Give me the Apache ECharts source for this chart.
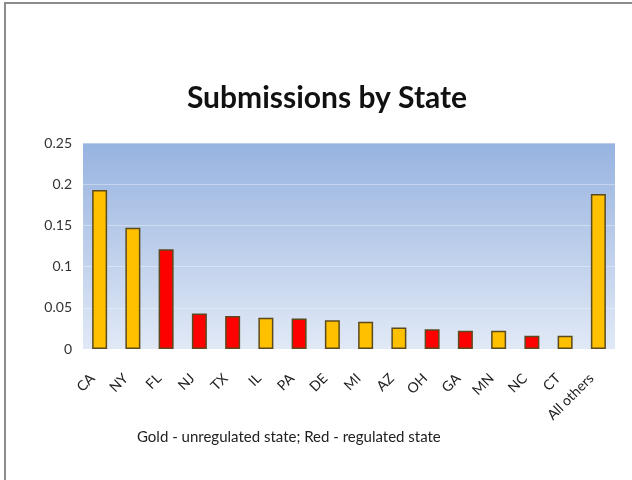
<!DOCTYPE html>
<html>
<head>
<meta charset="utf-8">
<script src="https://cdn.jsdelivr.net/npm/echarts@6/dist/echarts.min.js"></script>
<style>
  html, body { margin: 0; padding: 0; background: #fff; }
  #chart { width: 632px; height: 480px; }
</style>
</head>
<body>
<div id="chart"></div>
<script>
// Share of submissions per state
const states = ['CA', 'NY', 'FL', 'NJ', 'TX', 'IL', 'PA', 'DE', 'MI', 'AZ', 'OH', 'GA', 'MN', 'NC', 'CT', 'All others'];
const shares = [0.193, 0.147, 0.121, 0.043, 0.040, 0.038, 0.037, 0.035, 0.033, 0.026, 0.024, 0.022, 0.022, 0.016, 0.016, 0.188];
// true = regulated state (red), false = unregulated (gold)
const regulated = [false, false, true, true, true, false, true, false, false, false, true, true, false, true, false, false];
const yTicks = [0, 0.05, 0.1, 0.15, 0.2, 0.25];

const GOLD = '#ffc000';
const RED = '#ff0000';
const FONT = 'Lato, "Open Sans", sans-serif';

const chart = echarts.init(document.getElementById('chart'), null, { renderer: 'canvas' });

chart.setOption({
  animation: false,
  backgroundColor: '#ffffff',
  graphic: [
    {
      type: 'rect',
      shape: { x: 5, y: 3, width: 800, height: 800 },
      style: { fill: 'none', stroke: '#8c8c8c', lineWidth: 2 },
      silent: true
    },
    {
      type: 'text',
      x: 327,
      y: 98,
      style: {
        text: 'Submissions by State',
        font: 'bold 30px ' + FONT,
        fill: '#111',
        align: 'center',
        verticalAlign: 'middle'
      }
    },
    {
      type: 'text',
      x: 137,
      y: 437,
      style: {
        text: 'Gold - unregulated state; Red - regulated state',
        font: '15px ' + FONT,
        fill: '#222',
        verticalAlign: 'middle'
      }
    }
  ],
  grid: {
    left: 83, right: 17, top: 143, bottom: 131,
    show: true,
    borderWidth: 0,
    backgroundColor: {
      type: 'linear', x: 0, y: 0, x2: 0, y2: 1,
      colorStops: [
        { offset: 0, color: '#97b3e0' },
        { offset: 1, color: '#e1e9f6' }
      ]
    }
  },
  xAxis: {
    type: 'category',
    data: states,
    axisLine: { show: false },
    axisTick: { show: false },
    axisLabel: {
      rotate: 45,
      interval: 0,
      margin: 20,
      padding: [0, 10, 0, 0],
      fontFamily: FONT,
      fontSize: 14,
      color: '#222'
    }
  },
  yAxis: {
    type: 'value',
    min: yTicks[0],
    max: yTicks[yTicks.length - 1],
    interval: 0.05,
    axisLine: { show: false },
    axisTick: { show: false },
    splitLine: { show: true, lineStyle: { color: 'rgba(255,255,255,0.35)', width: 1 } },
    axisLabel: {
      margin: 11,
      fontFamily: FONT,
      fontSize: 14,
      color: '#333',
      formatter: v => String(Math.round(v * 100) / 100)
    }
  },
  series: [{
    type: 'bar',
    barWidth: 15,
    data: shares.map((v, i) => ({
      value: v,
      itemStyle: { color: regulated[i] ? RED : GOLD }
    })),
    itemStyle: { borderColor: '#5b4a1e', borderWidth: 1.5 }
  }]
});
</script>
</body>
</html>
